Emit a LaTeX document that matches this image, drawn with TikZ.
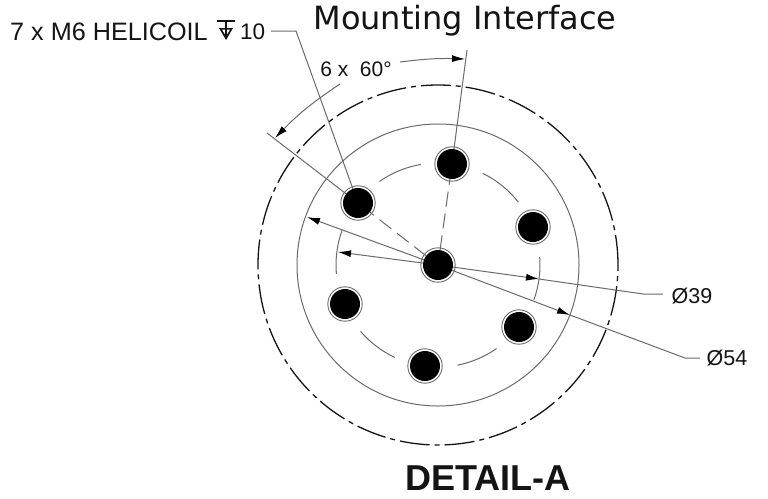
\documentclass[tikz,border=0pt]{standalone}
\usepackage{fontspec}
\setmainfont{Liberation Sans}
\newfontfamily\dejavu{DejaVu Sans}
\usetikzlibrary{arrows.meta,calc}
\definecolor{lead}{gray}{0.42}
\definecolor{inkdark}{gray}{0.08}
\tikzset{
  x=1pt,y=-1pt,
  thinline/.style={draw=lead,line width=1pt},
  dimline/.style={thinline,-{Latex[black,length=13pt,width=7pt]}},
  centerdash/.style={draw=lead,line width=1pt,dash pattern=on 15pt off 7pt},
  outerline/.style={draw=inkdark,line width=1.3pt,dash pattern=on 30pt off 5pt on 5pt off 5pt},
  bolt/.style={circle,fill=black,minimum size=30pt,inner sep=0pt,outer sep=0pt,
    append after command={\pgfextra{\draw[lead,line width=.9pt] (\tikzlastnode.center) circle[radius=17.2pt];}}},
  lbl/.style={inner sep=0pt,text=inkdark},
}
\begin{document}
\begin{tikzpicture}
\useasboundingbox (0,0) rectangle (768,498);
\fill[white] (0,0) rectangle (768,498);
% circles
\coordinate (c) at (438,265);
\draw[thinline] (c) circle[radius=141pt];
\draw[outerline] (c) circle[radius=180pt];
% bolt circle arcs
\foreach \a/\b in {99.6/125,38/64,-20/4.5,-79/-55,220.6/245,160/185}{
  \draw[draw=lead,line width=1pt] ($(c)+({102*cos(\a)},{-102*sin(\a)})$) arc[start angle=\a,end angle=\b,radius=102pt];
}
% holes
\node[bolt] (h0) at (438,265) {};
\node[bolt] (h1) at (452,164) {};
\node[bolt] (h2) at (533,227) {};
\node[bolt] (h3) at (519,327) {};
\node[bolt] (h4) at (425,366) {};
\node[bolt] (h5) at (345,304) {};
\node[bolt] (h6) at (358,203) {};
% texts
\node[lbl,anchor=west,font=\fontsize{25.2}{25.2}\selectfont] (title0) at (10,32) {7 x M6 HELICOIL};
\node[lbl,anchor=west,font=\fontsize{22.5}{22.5}\selectfont] (ten) at (240,32) {10};
\node[lbl,anchor=center,font=\dejavu\fontsize{32}{32}\selectfont] (title) at (465,21) {Mounting Interface};
\node[lbl,anchor=center,font=\fontsize{21}{21}\selectfont] (ang) at (356,69) {6 x\ \ 60\textdegree};
\node[lbl,anchor=center,font=\fontsize{21.5}{21.5}\selectfont] (d39) at (692,296) {Ø39};
\node[lbl,anchor=center,font=\fontsize{21.5}{21.5}\selectfont] (d54) at (727,358) {Ø54};
\node[lbl,anchor=center,font=\bfseries\fontsize{36}{36}\selectfont] (det) at (488,478) {DETAIL-A};
% depth symbol
\draw[inkdark,line width=1.2pt] (217,21) -- (235,21) (226,21) -- (226,39);
\fill[inkdark] (219,28) -- (233,28) -- (226,40) -- cycle;
\fill[white] (222,29.5) -- (230,29.5) -- (226,36) -- cycle;
\draw[inkdark,line width=1.2pt] (226,21) -- (226,36);
% leader
\coordinate (lk1) at (271,31);
\coordinate (lk2) at (296,31);
\draw[thinline] (lk1) -- (lk2) -- (h6);
% extension lines
\coordinate (e1) at (467,50);
\coordinate (e6) at (267,133);
\draw[thinline] (e1) -- (h1);
\draw[thinline] (e6) -- (h6);
\draw[centerdash] (h0) -- (h1);
\draw[centerdash] (h0) -- (h6);
% angular dim
\coordinate (a1s) at (400,62);
\coordinate (a1e) at (465,59);
\coordinate (a2s) at (340,84);
\coordinate (a2e) at (275,138);
\draw[dimline] (a1s) to[bend left=4.5] (a1e);
\draw[dimline] (a2s) to[bend right=6] (a2e);
% diameter leaders
\coordinate (t39r) at (539,279);
\coordinate (t39l) at (338,252);
\coordinate (k39) at (643,294);
\coordinate (k39e) at (663,294);
\coordinate (t54r) at (570,315);
\coordinate (t54l) at (307,217);
\coordinate (k54) at (685,358);
\coordinate (k54e) at (700,358);
\draw[dimline] (h0) -- (t39l);
\draw[dimline] (h0) -- (t54l);
\draw[dimline] (h0) -- (t39r);
\draw[dimline] (h0) -- (t54r);
\draw[thinline] (t39r) -- (k39) -- (k39e);
\draw[thinline] (t54r) -- (k54) -- (k54e);
\end{tikzpicture}
\end{document}
